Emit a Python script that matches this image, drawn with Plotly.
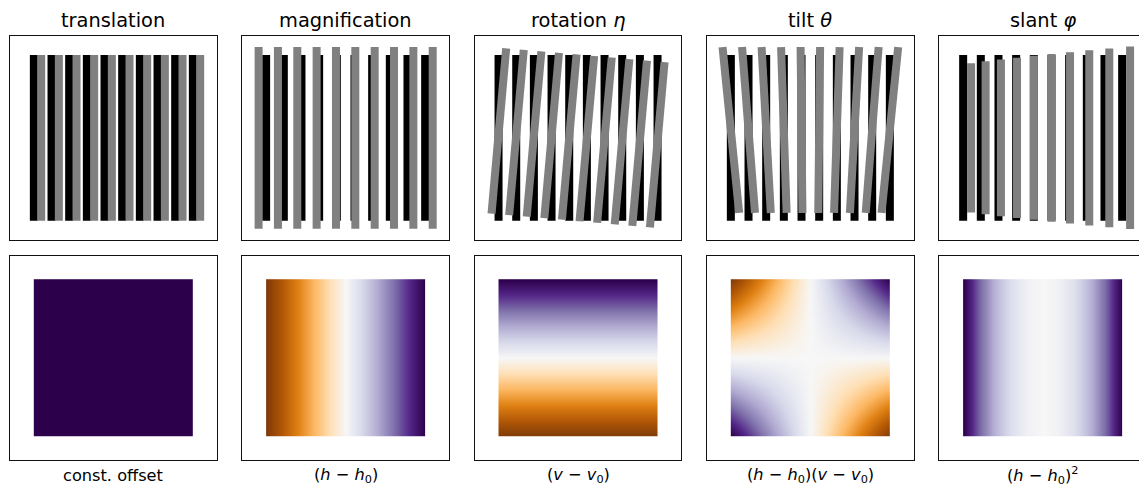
import numpy as np
import plotly.graph_objects as go

W, H = 1139, 486

# ---------------- text ----------------
panel_titles = ["translation", "magnification", "rotation <i>η</i>", "tilt <i>θ</i>", "slant <i>φ</i>"]
panel_labels = [
    "const. offset",
    "(<i>h</i> − <i>h</i><sub>0</sub>)",
    "(<i>v</i> − <i>v</i><sub>0</sub>)",
    "(<i>h</i> − <i>h</i><sub>0</sub>)(<i>v</i> − <i>v</i><sub>0</sub>)",
    "(<i>h</i> − <i>h</i><sub>0</sub>)<sup>2</sup>",
]

# ---------------- bar pattern (top row) ----------------
bar_h = [-0.9, -0.7, -0.5, -0.3, -0.1, 0.1, 0.3, 0.5, 0.7, 0.9]
bar_half_len = 0.95

# transform parameters
translation_shift = 0.083
magnification_scale = 1.095
rotation_deg = -5.0
tilt_gain = 0.11
tilt_lift = 0.09
slant_gain = 0.111

# ---------------- disparity maps (bottom row) ----------------
grid_h = [-0.9, 0.9]
grid_v = [-0.9, 0.9]
translation_z = [[1, 1], [1, 1]]
magnification_z = [[-1, 1], [-1, 1]]
rotation_z = [[-1, -1], [1, 1]]
tilt_z = [[1, -1], [-1, 1]]
slant_h = [-0.9, -0.72, -0.54, -0.36, -0.18, 0.0, 0.18, 0.36, 0.54, 0.72, 0.9]
slant_row = [1.0, 0.64, 0.36, 0.16, 0.04, 0.0, 0.04, 0.16, 0.36, 0.64, 1.0]

puor = ['#7f3b08', '#b35806', '#e08214', '#fdb863', '#fee0b6', '#f7f7f7',
        '#d8daeb', '#b2abd2', '#8073ac', '#542788', '#2d004b']
colorscale = [[i / 10, c] for i, c in enumerate(puor)]


def tf_translation(h, v):
    return h + translation_shift, v


def tf_magnification(h, v):
    return h * magnification_scale, v * magnification_scale


def tf_rotation(h, v):
    a = np.deg2rad(rotation_deg)
    return h * np.cos(a) - v * np.sin(a), h * np.sin(a) + v * np.cos(a)


def tf_tilt(h, v):
    return h * (1 + tilt_gain * v), v + tilt_lift


def tf_slant(h, v):
    return h + slant_gain * h * h, v * (1 + slant_gain * h)


transforms = [tf_translation, tf_magnification, tf_rotation, tf_tilt, tf_slant]


def bars_xy(tf=None):
    xs, ys = [], []
    for h in bar_h:
        for v in (-bar_half_len, bar_half_len):
            if tf is None:
                x, y = h, v
            else:
                x, y = tf(h, v)
            xs.append(x)
            ys.append(y)
        xs.append(None)
        ys.append(None)
    return xs, ys


def padded(coords, eps=1e-3):
    c = list(coords)
    return [c[0], c[0] + eps] + c[1:-1] + [c[-1] - eps, c[-1]]


def pad_z(z):
    z = np.asarray(z, float)
    z = np.concatenate([z[:, :1], z, z[:, -1:]], axis=1)
    z = np.concatenate([z[:1], z, z[-1:]], axis=0)
    return z


heat_specs = [
    (grid_h, grid_v, translation_z),
    (grid_h, grid_v, magnification_z),
    (grid_h, grid_v, rotation_z),
    (grid_h, grid_v, tilt_z),
    (slant_h, grid_v, [slant_row, slant_row]),
]

# ---------------- layout geometry (pixels) ----------------
col_left = [10.0, 242.3, 474.7, 707.0, 939.3]
box_w = 206.7
row_top = [35.7, 255.7]
box_h = 204.3
rng = 1.17
px_per_unit = box_w / (2 * rng)

fig = go.Figure()
layout = dict(
    width=W, height=H, margin=dict(l=0, r=0, t=0, b=0),
    paper_bgcolor='white', plot_bgcolor='white', showlegend=False,
)

for r in range(2):
    for c in range(5):
        k = r * 5 + c + 1
        xname = 'xaxis' if k == 1 else f'xaxis{k}'
        yname = 'yaxis' if k == 1 else f'yaxis{k}'
        xref = 'x' if k == 1 else f'x{k}'
        yref = 'y' if k == 1 else f'y{k}'
        x0 = col_left[c]
        x1 = x0 + box_w
        xr = [-rng, rng]
        if x1 > W:
            xr = [-rng, -rng + (W - x0) / px_per_unit]
            x1 = W
        y0 = row_top[r]
        y1 = y0 + box_h
        axcommon = dict(showgrid=False, zeroline=False, showticklabels=False,
                        ticks='', showline=True, linecolor='#111', linewidth=1.2)
        layout[xname] = dict(domain=[x0 / W, x1 / W], range=xr, anchor=yref,
                             mirror=True, **axcommon)
        layout[yname] = dict(domain=[1 - y1 / H, 1 - y0 / H], range=[-rng, rng], anchor=xref,
                             mirror=(c < 4), **axcommon)
        if r == 0:
            bx, by = bars_xy()
            fig.add_trace(go.Scatter(x=bx, y=by, mode='lines', xaxis=xref, yaxis=yref,
                                     line=dict(color='black', width=8), hoverinfo='skip'))
            gx, gy = bars_xy(transforms[c])
            fig.add_trace(go.Scatter(x=gx, y=gy, mode='lines', xaxis=xref, yaxis=yref,
                                     line=dict(color='#808080', width=8), hoverinfo='skip'))
        else:
            hh, vv, zz = heat_specs[c]
            fig.add_trace(go.Heatmap(x=padded(hh), y=padded(vv), z=pad_z(zz),
                                     xaxis=xref, yaxis=yref, colorscale=colorscale,
                                     zmin=-1, zmax=1, zsmooth='best', showscale=False,
                                     hoverinfo='skip'))

annotations = []
for c in range(5):
    cx = (col_left[c] + box_w / 2) / W
    annotations.append(dict(text=panel_titles[c], x=cx, y=1 - 20 / H, xref='paper', yref='paper',
                            xanchor='center', yanchor='middle', showarrow=False,
                            font=dict(family='DejaVu Sans', size=19.4, color='black')))
    annotations.append(dict(text=panel_labels[c], x=cx, y=1 - 475 / H, xref='paper', yref='paper',
                            xanchor='center', yanchor='middle', showarrow=False,
                            font=dict(family='DejaVu Sans', size=16.2, color='black')))
layout['annotations'] = annotations

fig.update_layout(**layout)
fig.write_html("out.html")
